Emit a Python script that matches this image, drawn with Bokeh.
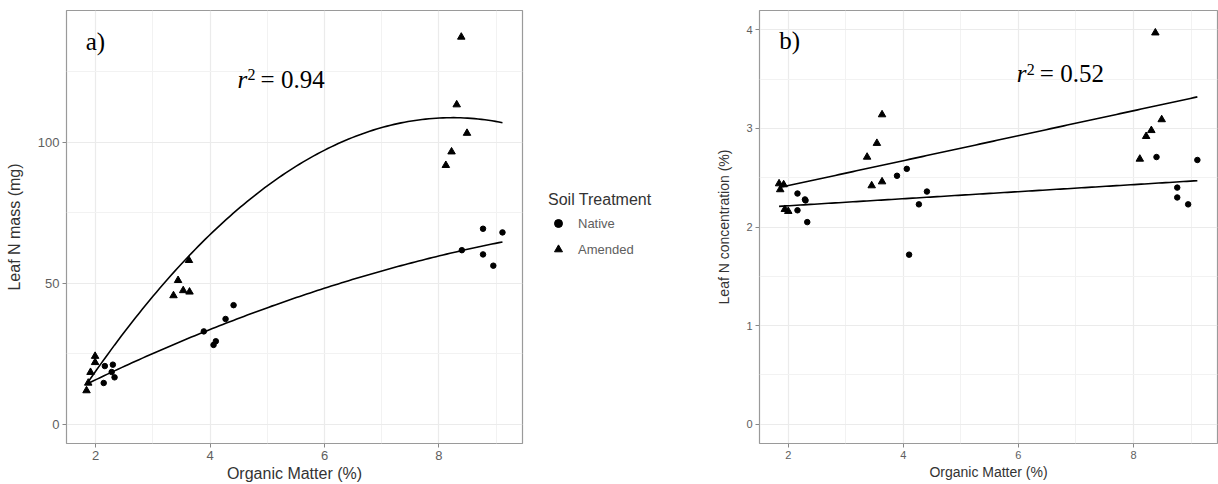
import numpy as np
from bokeh.plotting import figure
from bokeh.layouts import row
from bokeh.models import Range1d, FixedTicker, Legend, LegendItem, Label
from bokeh.embed import file_html
from bokeh.resources import INLINE

# ---------------- data ----------------
native_om_a = [2.16, 2.14, 2.30, 2.28, 2.33, 3.89, 4.06, 4.10, 4.27, 4.41, 8.77, 9.11, 8.40, 8.77, 8.95]
native_mass = [20.6, 14.6, 21.1, 18.5, 16.6, 32.9, 28.1, 29.4, 37.3, 42.2, 69.3, 68.0, 61.7, 60.2, 56.2]
amended_om_a = [1.84, 1.87, 1.91, 1.99, 1.99, 3.36, 3.44, 3.53, 3.64, 3.63, 8.39, 8.31, 8.49, 8.22, 8.12]
amended_mass = [11.9, 14.6, 18.4, 21.9, 24.1, 45.6, 51.0, 47.4, 46.9, 58.1, 137.3, 113.3, 103.2, 96.6, 91.8]

native_om_b = [2.16, 2.16, 2.29, 2.30, 2.33, 3.89, 4.06, 4.27, 4.41, 4.10, 8.40, 9.11, 8.76, 8.76, 8.95]
native_conc = [2.34, 2.17, 2.28, 2.27, 2.05, 2.52, 2.59, 2.23, 2.36, 1.72, 2.71, 2.68, 2.40, 2.30, 2.23]
amended_om_b = [1.84, 1.92, 1.86, 1.94, 2.00, 3.37, 3.54, 3.63, 3.45, 3.63, 8.38, 8.49, 8.31, 8.22, 8.11]
amended_conc = [2.44, 2.43, 2.38, 2.18, 2.16, 2.71, 2.85, 3.14, 2.42, 2.46, 3.97, 3.09, 2.98, 2.92, 2.69]

# fitted curves
fit_a_amended_x = [1.84, 3.72, 4.42, 5.17, 5.93, 6.63, 7.15, 8.03, 9.11]
fit_a_amended_y = [14.0, 61.4, 75.6, 87.4, 95.7, 102.8, 105.8, 108.7, 107.0]
fit_a_native_x = [1.84, 3.89, 6.63, 8.40, 9.11]
fit_a_native_y = [14.1, 32.9, 51.9, 61.7, 64.6]
fit_b_x = [1.84, 9.11]
fit_b_amended_y = [2.40, 3.32]
fit_b_native_y = [2.21, 2.47]

x_ticks = [2, 4, 6, 8]
x_minor = [3, 5, 7, 9]
ya_ticks = [0, 50, 100]
ya_minor = [25, 75, 125]
yb_ticks = [0, 1, 2, 3, 4]
yb_minor = [0.5, 1.5, 2.5, 3.5]

SANS = "Liberation Sans"
SERIF = "Liberation Serif"
TICK_COL = "#5e5e5e"
TITLE_COL = "#333333"
BORDER_COL = "#9a9a9a"
GRID_COL = "#ebebeb"
MINOR_COL = "#f2f2f2"


def style(p, xt, xm, yt, ym, tick_fs, title_fs, ytitle_standoff):
    p.xaxis.ticker = FixedTicker(ticks=xt, minor_ticks=xm)
    p.yaxis.ticker = FixedTicker(ticks=yt, minor_ticks=ym)
    for ax in (p.xaxis[0], p.yaxis[0]):
        ax.axis_line_color = None
        ax.major_tick_line_color = "#888888"
        ax.major_tick_out = 4
        ax.major_tick_in = 0
        ax.minor_tick_line_color = None
        ax.major_label_text_font = SANS
        ax.major_label_text_font_size = tick_fs
        ax.major_label_text_color = TICK_COL
        ax.major_label_standoff = 3
        ax.axis_label_text_font = SANS
        ax.axis_label_text_font_size = title_fs
        ax.axis_label_text_font_style = "normal"
        ax.axis_label_text_color = TITLE_COL
        ax.axis_label_standoff = 2
    p.yaxis[0].axis_label_standoff = ytitle_standoff
    for g in (p.xgrid[0], p.ygrid[0]):
        g.grid_line_color = GRID_COL
        g.grid_line_width = 1.2
        g.minor_grid_line_color = MINOR_COL
        g.minor_grid_line_width = 1
    p.outline_line_color = BORDER_COL
    p.outline_line_width = 1.2
    p.background_fill_color = "white"
    p.border_fill_color = "white"


def smooth(xs, ys, deg):
    xx = np.linspace(min(xs), max(xs), 120)
    return xx, np.polyval(np.polyfit(xs, ys, deg), xx)


def add_r2(p, x0, y0, ysup, txt, fs, sup_fs, sup_dx, rest_dx):
    p.add_layout(Label(x=x0, y=y0, text="r", text_font=SERIF, text_font_style="italic",
                       text_font_size=fs, text_color="black", text_baseline="alphabetic"))
    p.add_layout(Label(x=x0, y=ysup, x_offset=sup_dx, text="2", text_font=SERIF,
                       text_font_size=sup_fs, text_color="black", text_baseline="alphabetic"))
    p.add_layout(Label(x=x0, y=y0, x_offset=rest_dx, text=txt, text_font=SERIF,
                       text_font_size=fs, text_color="black", text_baseline="alphabetic"))


# ---------------- panel a ----------------
pa = figure(frame_width=456, height=484, output_backend="svg", toolbar_location=None,
            x_range=Range1d(1.49, 9.46), y_range=Range1d(-6.86, 146.7),
            min_border_left=66, min_border_right=2, min_border_top=10, min_border_bottom=40,
            x_axis_label="Organic Matter (%)", y_axis_label="Leaf N mass (mg)")
style(pa, x_ticks, x_minor, ya_ticks, ya_minor, "13px", "16px", 12)

xx, yy = smooth(fit_a_native_x, fit_a_native_y, 2)
pa.line(xx, yy, line_color="black", line_width=1.6)
xx, yy = smooth(fit_a_amended_x, fit_a_amended_y, 2)
pa.line(xx, yy, line_color="black", line_width=1.6)
pa.scatter(native_om_a, native_mass, marker="circle", size=5.5, color="black")
pa.scatter(amended_om_a, amended_mass, marker="triangle", size=7.5, color="black")

pa.add_layout(Label(x=1.825, y=135.6, text="a)", text_font=SERIF, text_font_size="25px",
                    text_color="black", text_baseline="alphabetic"))
add_r2(pa, 4.48, 122.4, 124.0, "= 0.94", "25px", "16px", 10, 23)

# ---------------- legend (own small canvas between the panels) ----------------
pl = figure(width=181, height=484, output_backend="svg", toolbar_location=None,
            x_range=Range1d(0, 1), y_range=Range1d(0, 1), x_axis_type=None, y_axis_type=None,
            min_border=0)
pl.outline_line_color = None
pl.grid.visible = False
ln = pl.scatter([-5], [-5], marker="circle", size=5.5, color="black")
la = pl.scatter([-5], [-5], marker="triangle", size=7.5, color="black")
legend = Legend(items=[LegendItem(label="Native", renderers=[ln]),
                       LegendItem(label="Amended", renderers=[la])],
                title="Soil Treatment", location=(24, 184), orientation="vertical")
legend.title_text_font = SANS
legend.title_text_font_size = "16px"
legend.title_text_font_style = "normal"
legend.title_text_color = TITLE_COL
legend.title_standoff = 4
legend.label_text_font = SANS
legend.label_text_font_size = "13px"
legend.label_text_color = TICK_COL
legend.border_line_color = None
legend.background_fill_alpha = 0
legend.margin = 0
legend.padding = 6
legend.spacing = 6
legend.glyph_width = 20
legend.glyph_height = 20
legend.label_standoff = 10
pl.add_layout(legend, "center")

# ---------------- panel b ----------------
pb = figure(frame_width=458, height=484, output_backend="svg", toolbar_location=None,
            x_range=Range1d(1.50, 9.46), y_range=Range1d(-0.195, 4.196),
            min_border_left=54, min_border_right=1, min_border_top=3, min_border_bottom=40,
            x_axis_label="Organic Matter (%)", y_axis_label="Leaf N concentration (%)")
style(pb, x_ticks, x_minor, yb_ticks, yb_minor, "11px", "14px", 11)

xx, yy = smooth(fit_b_x, fit_b_native_y, 1)
pb.line(xx, yy, line_color="black", line_width=1.6)
xx, yy = smooth(fit_b_x, fit_b_amended_y, 1)
pb.line(xx, yy, line_color="black", line_width=1.6)
pb.scatter(native_om_b, native_conc, marker="circle", size=5.5, color="black")
pb.scatter(amended_om_b, amended_conc, marker="triangle", size=7.5, color="black")

pb.add_layout(Label(x=1.843, y=3.89, text="b)", text_font=SERIF, text_font_size="25px",
                    text_color="black", text_baseline="alphabetic"))
add_r2(pb, 5.972, 3.56, 3.60, "= 0.52", "25px", "16px", 10, 23)

layout = row(pa, pl, pb)
open("out.html", "w").write(file_html(layout, INLINE))
